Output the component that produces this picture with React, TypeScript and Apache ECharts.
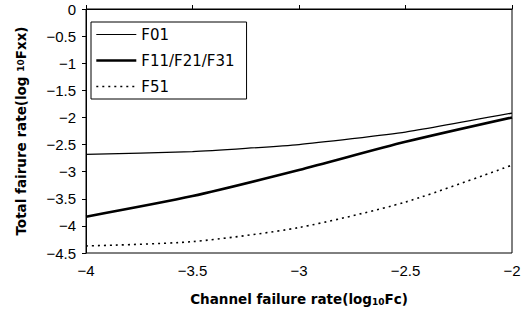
import React, { useEffect, useRef } from "react";
import * as echarts from "echarts";

const xValues = [-4, -3.5, -3, -2.5, -2];
const f01 = [-2.68, -2.63, -2.5, -2.27, -1.92];
const f11 = [-3.83, -3.45, -2.97, -2.45, -2.0];
const f51 = [-4.37, -4.29, -4.03, -3.56, -2.88];
const seriesNames = ["F01", "F11/F21/F31", "F51"];
const lineWidths = [1.2, 2.6, 1.6];

const fmt = (v: number) => String(v).replace("-", "\u2212");

export default function App() {
  const ref = useRef<HTMLDivElement>(null);
  useEffect(() => {
    if (!ref.current) return;
    const chart = echarts.init(ref.current, undefined, { renderer: "svg" });
    const pair = (ys: number[]) => xValues.map((x, i) => [x, ys[i]]);
    const font = "'Liberation Sans', Arial, sans-serif";
    const wide = "'DejaVu Sans', sans-serif";
    const dash = [2, 4];
    chart.setOption({
      animation: false,
      backgroundColor: "#fff",
      textStyle: { fontFamily: font },
      grid: {
        left: 86,
        right: 18,
        top: 9,
        bottom: 68,
        show: true,
        borderColor: "#000",
        borderWidth: 1,
      },
      legend: {
        orient: "vertical",
        left: 91,
        top: 22,
        data: seriesNames.map((n, i) => ({
          name: n,
          lineStyle: { width: lineWidths[i], color: "#000", type: i === 2 ? dash : "solid" },
        })),
        itemWidth: 40,
        itemHeight: 14,
        itemGap: 11,
        padding: [5, 12, 5, 4],
        borderColor: "#000",
        borderWidth: 1,
        backgroundColor: "#fff",
        itemStyle: { opacity: 0 },
        textStyle: { fontSize: 15, color: "#000", fontFamily: wide },
      },
      xAxis: {
        type: "value",
        min: -4,
        max: -2,
        interval: 0.5,
        name: "Channel failure rate(log{s|10}Fc)",
        nameLocation: "middle",
        nameGap: 38,
        nameTextStyle: {
          fontSize: 13.5,
          fontWeight: "bold",
          color: "#000",
          fontFamily: wide,
          rich: { s: { fontSize: 9, fontWeight: "bold", fontFamily: wide, verticalAlign: "bottom", padding: [6, 0, 0, 0] } },
        },
        axisLine: { lineStyle: { color: "#000", width: 1 } },
        axisTick: { show: true, inside: true, length: 4, lineStyle: { color: "#000" } },
        splitLine: { show: false },
        axisLabel: { color: "#000", fontSize: 15, margin: 10, formatter: fmt },
      },
      yAxis: {
        type: "value",
        min: -4.5,
        max: 0,
        interval: 0.5,
        name: "Total fairure rate(log {s|10}Fxx)",
        nameLocation: "middle",
        nameGap: 58,
        nameTextStyle: {
          fontSize: 13.5,
          fontWeight: "bold",
          color: "#000",
          fontFamily: wide,
          rich: { s: { fontSize: 9, fontWeight: "bold", fontFamily: wide } },
        },
        axisLine: { show: true, lineStyle: { color: "#000", width: 1 } },
        axisTick: { show: true, length: 4, lineStyle: { color: "#000" } },
        splitLine: { show: false },
        axisLabel: { color: "#000", fontSize: 15, margin: 10, formatter: fmt },
      },
      series: [
        {
          name: seriesNames[0],
          type: "line",
          data: pair(f01),
          symbol: "none",
          smooth: 0.15,
          lineStyle: { color: "#000", width: lineWidths[0] },
          itemStyle: { color: "#000" },
        },
        {
          name: seriesNames[1],
          type: "line",
          data: pair(f11),
          symbol: "none",
          smooth: 0.25,
          lineStyle: { color: "#000", width: lineWidths[1] },
          itemStyle: { color: "#000" },
        },
        {
          name: seriesNames[2],
          type: "line",
          data: pair(f51),
          symbol: "none",
          smooth: 0.25,
          lineStyle: { color: "#000", width: lineWidths[2], type: dash },
          itemStyle: { color: "#000" },
        },
      ],
    });
    return () => chart.dispose();
  }, []);
  return (
    <div
      ref={ref}
      style={{ position: "fixed", left: 0, top: 0, width: 530, height: 321, background: "#fff" }}
    />
  );
}
